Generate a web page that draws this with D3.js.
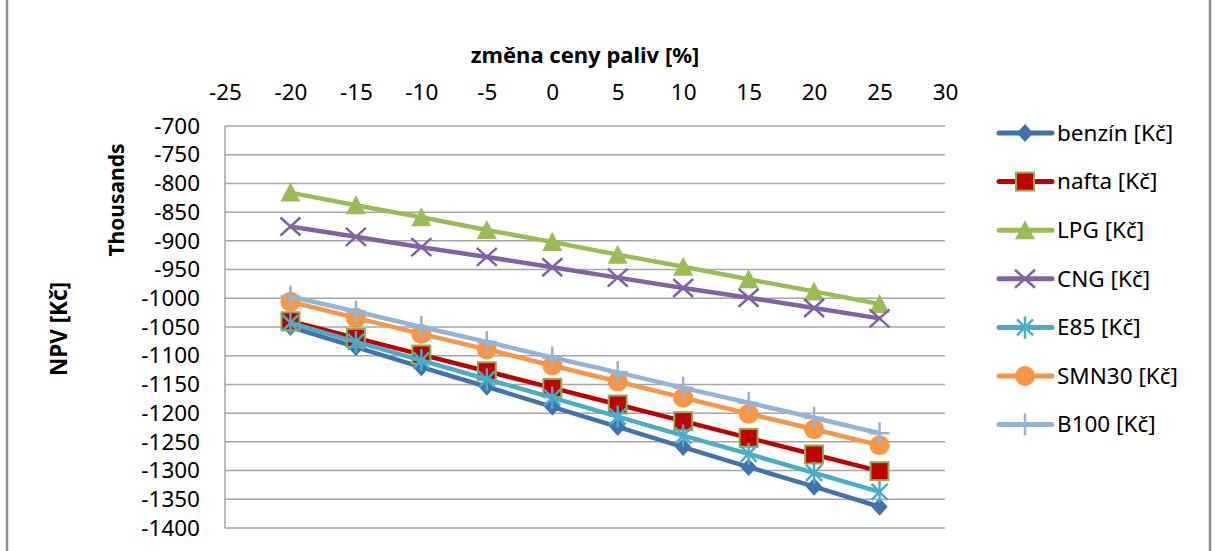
<!DOCTYPE html>
<html>
<head>
<meta charset="utf-8">
<script src="https://cdn.jsdelivr.net/npm/d3@7"></script>
<style>
  html, body { margin: 0; padding: 0; background: #fff; }
  svg { display: block; }
  text { font-family: "Noto Sans", "Open Sans", sans-serif; fill: #000; }
</style>
</head>
<body>
<svg id="chart" width="1216" height="551"></svg>
<script>
// Change in fuel price [%]
const priceChange = [-20, -15, -10, -5, 0, 5, 10, 15, 20, 25];

// NPV in thousands of CZK per fuel type
const benzin = [-1050, -1085, -1120, -1154, -1189, -1224, -1259, -1294, -1328, -1363];
const nafta  = [-1040, -1069, -1098, -1127, -1156, -1185, -1214, -1243, -1272, -1301];
const lpg    = [-816, -838, -859, -881, -902, -924, -945, -967, -988, -1010];
const cng    = [-875, -893, -911, -928, -946, -964, -982, -999, -1017, -1035];
const e85    = [-1043, -1076, -1108, -1141, -1173, -1206, -1239, -1271, -1304, -1337];
const smn30  = [-1006, -1034, -1062, -1089, -1117, -1145, -1173, -1201, -1228, -1256];
const b100   = [-997, -1023, -1050, -1076, -1103, -1129, -1156, -1182, -1208, -1235];

const seriesNames = ["benzín [Kč]", "nafta [Kč]", "LPG [Kč]", "CNG [Kč]", "E85 [Kč]", "SMN30 [Kč]", "B100 [Kč]"];

// Axis ticks
const xTicks = [-25, -20, -15, -10, -5, 0, 5, 10, 15, 20, 25, 30];
const yTicks = [-700, -750, -800, -850, -900, -950, -1000, -1050, -1100, -1150, -1200, -1250, -1300, -1350, -1400];

const series = [
  { name: seriesNames[0], values: benzin, color: "#4372aa", marker: "diamond" },
  { name: seriesNames[1], values: nafta,  color: "#c00000", marker: "square" },
  { name: seriesNames[2], values: lpg,    color: "#9bbb59", marker: "triangle" },
  { name: seriesNames[3], values: cng,    color: "#8064a2", marker: "x" },
  { name: seriesNames[4], values: e85,    color: "#4bacc6", marker: "star" },
  { name: seriesNames[5], values: smn30,  color: "#f79646", marker: "circle" },
  { name: seriesNames[6], values: b100,   color: "#95b3d7", marker: "plus" }
];

const svg = d3.select("#chart");
const plot = { left: 225, right: 945, top: 126, bottom: 528 };

const x = d3.scaleLinear().domain([-25, 30]).range([plot.left, plot.right]);
const y = d3.scaleLinear().domain([-1400, -700]).range([plot.bottom, plot.top]);

// outer chart frame
svg.append("rect")
  .attr("x", 7).attr("y", -10)
  .attr("width", 1203).attr("height", 580)
  .attr("fill", "#fff")
  .attr("stroke", "#8c8c8c").attr("stroke-width", 2.5);

// horizontal gridlines
svg.append("g").selectAll("line").data(yTicks).join("line")
  .attr("x1", plot.left).attr("x2", plot.right)
  .attr("y1", d => y(d)).attr("y2", d => y(d))
  .attr("stroke", "#a6a6a6").attr("stroke-width", 1.5);

// vertical axis line
svg.append("line")
  .attr("x1", plot.left).attr("x2", plot.left)
  .attr("y1", plot.top).attr("y2", plot.bottom)
  .attr("stroke", "#a6a6a6").attr("stroke-width", 1.5);

// top axis (price change)
const gx = svg.append("g")
  .attr("transform", `translate(0,${plot.top})`)
  .call(d3.axisTop(x).tickValues(xTicks).tickSize(0).tickPadding(26).tickFormat(d => String(d)));
gx.select(".domain").remove();
gx.selectAll("text").attr("font-size", 22.5).attr("font-family", "Noto Sans").attr("fill", "#000");

// left axis (NPV)
const gy = svg.append("g")
  .attr("transform", `translate(${plot.left},0)`)
  .call(d3.axisLeft(y).tickValues(yTicks).tickSize(0).tickPadding(25).tickFormat(d => String(d)));
gy.select(".domain").remove();
gy.selectAll("text").attr("font-size", 22.5).attr("font-family", "Noto Sans").attr("fill", "#000");

// axis titles
svg.append("text")
  .attr("x", 585).attr("y", 63)
  .attr("text-anchor", "middle")
  .attr("font-size", 22).attr("font-weight", "bold")
  .text("změna ceny paliv [%]");

svg.append("text")
  .attr("transform", "translate(67,329) rotate(-90)")
  .attr("text-anchor", "middle")
  .attr("font-size", 22.5).attr("font-weight", "bold")
  .text("NPV [Kč]");

svg.append("text")
  .attr("transform", "translate(124,200) rotate(-90)")
  .attr("text-anchor", "middle")
  .attr("font-size", 21).attr("font-weight", "bold")
  .text("Thousands");

// marker drawing
function drawMarker(g, type, color) {
  if (type === "diamond") {
    g.append("path").attr("d", d3.symbol(d3.symbolDiamond2, 170)())
      .attr("transform", "scale(1,1.1)")
      .attr("fill", color);
  } else if (type === "square") {
    g.append("rect").attr("x", -9).attr("y", -9).attr("width", 18).attr("height", 18)
      .attr("fill", color).attr("stroke", "#8fae52").attr("stroke-width", 2);
  } else if (type === "triangle") {
    g.append("path").attr("d", "M0,-10L10,9L-10,9Z").attr("fill", color);
  } else if (type === "circle") {
    g.append("circle").attr("r", 10).attr("fill", color);
  } else if (type === "x") {
    g.append("path").attr("d", "M-10,-9L10,9M-10,9L10,-9")
      .attr("stroke", color).attr("stroke-width", 2.5).attr("fill", "none");
  } else if (type === "star") {
    g.append("path").attr("d", "M-8,-8L8,8M-8,8L8,-8M0,-11L0,11")
      .attr("stroke", color).attr("stroke-width", 2.5).attr("fill", "none");
  } else if (type === "plus") {
    g.append("path").attr("d", "M0,-11L0,11M-10,0L10,0")
      .attr("stroke", color).attr("stroke-width", 2.5).attr("fill", "none");
  }
}

const line = d3.line().x((d, i) => x(priceChange[i])).y(d => y(d));

// series lines and markers, drawn in series order
series.forEach(s => {
  const g = svg.append("g");
  g.append("path")
    .attr("d", line(s.values))
    .attr("fill", "none")
    .attr("stroke", s.color)
    .attr("stroke-width", 4.5)
    .attr("stroke-linejoin", "round");
  s.values.forEach((v, i) => {
    const m = g.append("g").attr("transform", `translate(${x(priceChange[i])},${y(v)})`);
    drawMarker(m, s.marker, s.color);
  });
});

// legend
const legend = svg.append("g");
series.forEach((s, i) => {
  const cy = 133 + i * 48.6;
  const item = legend.append("g").attr("transform", `translate(0,${cy})`);
  item.append("line")
    .attr("x1", 999).attr("x2", 1052).attr("y1", 0).attr("y2", 0)
    .attr("stroke", s.color).attr("stroke-width", 5).attr("stroke-linecap", "round");
  const m = item.append("g").attr("transform", "translate(1025,0)");
  drawMarker(m, s.marker, s.color);
  item.append("text")
    .attr("x", 1057).attr("y", 0).attr("dy", "0.35em")
    .attr("font-size", 22.5)
    .text(s.name);
});
</script>
</body>
</html>
